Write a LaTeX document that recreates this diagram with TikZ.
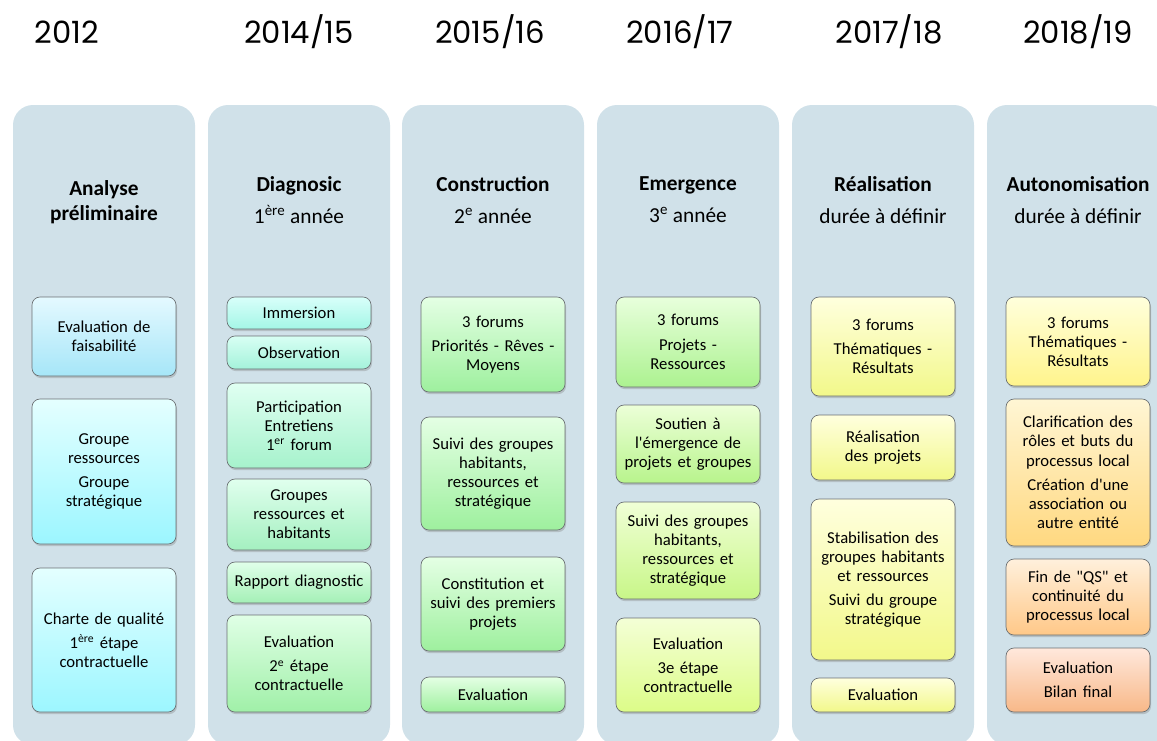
\documentclass[tikz,border=0pt]{standalone}
\usepackage{fontspec}
\setmainfont{Carlito}
\newfontfamily\yearfont{Poppins}
\usetikzlibrary{shadows}

\definecolor{colbg}{HTML}{D0E1E9}
\definecolor{bordgray}{HTML}{6A6F72}
% box shades, top and bottom
\definecolor{topblue}{HTML}{E4F9FF}\definecolor{botblue}{HTML}{A6E6F8}
\definecolor{topcyan}{HTML}{E4FFFF}\definecolor{botcyan}{HTML}{9CF6FF}
\definecolor{topaqua}{HTML}{D8FFFA}\definecolor{botaqua}{HTML}{A4F6E6}
\definecolor{topteal}{HTML}{D8FFF4}\definecolor{botteal}{HTML}{A4F2DA}
\definecolor{topmint}{HTML}{E0FFF2}\definecolor{botmint}{HTML}{A6F2CC}
\definecolor{topsea}{HTML}{E0FFEE}\definecolor{botsea}{HTML}{A4F0C0}
\definecolor{topjade}{HTML}{E0FFEA}\definecolor{botjade}{HTML}{A4F0B6}
\definecolor{topleaf}{HTML}{E0FFE6}\definecolor{botleaf}{HTML}{A0F0A8}
\definecolor{topgreen}{HTML}{E4FFE4}\definecolor{botgreen}{HTML}{9EF09E}
\definecolor{toplime}{HTML}{E8FFDC}\definecolor{botlime}{HTML}{ACF290}
\definecolor{topspring}{HTML}{ECFFD8}\definecolor{botspring}{HTML}{B8F48C}
\definecolor{topchart}{HTML}{F0FFD6}\definecolor{botchart}{HTML}{C8F688}
\definecolor{toppear}{HTML}{F4FFD6}\definecolor{botpear}{HTML}{DCFC88}
\definecolor{topyel}{HTML}{FFFFDE}\definecolor{botyel}{HTML}{F2F88A}
\definecolor{topgold}{HTML}{FFFFDC}\definecolor{botgold}{HTML}{FFF48C}
\definecolor{topamber}{HTML}{FFF6D4}\definecolor{botamber}{HTML}{FFD880}
\definecolor{toporange}{HTML}{FFF0DC}\definecolor{botorange}{HTML}{FFC888}
\definecolor{topsalmon}{HTML}{FFE8DC}\definecolor{botsalmon}{HTML}{F8B888}

\begin{document}
\begin{tikzpicture}[x=0.75pt,y=-0.75pt,every node/.style={align=center},
	col/.style={fill=colbg,rounded corners=15pt,minimum width=136.5pt,minimum height=480pt,inner sep=0pt},
	year/.style={font=\yearfont\fontsize{23}{27}\selectfont},
	hd/.style={font=\fontsize{16}{19}\selectfont},
	box/.style={draw=bordgray,line width=0.5pt,rounded corners=6pt,minimum width=108pt,text width=104pt,inner sep=1pt,
		font=\fontsize{12.5}{14.3}\selectfont,drop shadow={shadow xshift=0.8pt,shadow yshift=-1.6pt,opacity=0.35}},
	ht/.style={minimum height=#1*0.75pt},
	grad/.style={top color=top#1,bottom color=bot#1}]
	\useasboundingbox (0,0) rectangle (1157,740);
	
	% years
	\node[year] (y1) at (67,32) {2012};
	\node[year] (y2) at (299,32) {2014/15};
	\node[year] (y3) at (490,32) {2015/16};
	\node[year] (y4) at (680,32) {2016/17};
	\node[year] (y5) at (889,32) {2017/18};
	\node[year] (y6) at (1078,32) {2018/19};
	
	% columns
	\node[col] (c1) at (104,425) {};
	\node[col] (c2) at (299,425) {};
	\node[col] (c3) at (493,425) {};
	\node[col] (c4) at (688,425) {};
	\node[col] (c5) at (883,425) {};
	\node[col] (c6) at (1078,425) {};
	
	% headers
	\node[hd] (h1) at (104,202) {\textbf{Analyse}\\[0pt]\textbf{préliminaire}};
	\node[hd] (h2) at (299,200) {\textbf{Diagnosic}\\[5pt]1\textsuperscript{ère} année};
	\node[hd] (h3) at (493,200) {\textbf{Construction}\\[5pt]2\textsuperscript{e} année};
	\node[hd] (h4) at (688,200) {\textbf{Emergence}\\[5pt]3\textsuperscript{e} année};
	\node[hd] (h5) at (883,200) {\textbf{Réalisation}\\[5pt]durée à définir};
	\node[hd] (h6) at (1078,200) {\textbf{Autonomisation}\\[5pt]durée à définir};
	
	% column 1
	\node[box,ht=79,grad=blue] (b1a) at (104,336.5) {Evaluation de\\faisabilité};
	\node[box,ht=145,grad=cyan] (b1b) at (104,471.5) {Groupe\\ressources\\[4pt]Groupe\\stratégique};
	\node[box,ht=144,grad=cyan] (b1c) at (104,640) {Charte de qualité\\[4pt]1\textsuperscript{ère} étape\\contractuelle};
	
	% column 2
	\node[box,ht=32,grad=aqua] (b2a) at (299,313) {Immersion};
	\node[box,ht=33,grad=teal] (b2b) at (299,352.5) {Observation};
	\node[box,ht=85,grad=mint] (b2c) at (299,425.5) {Participation\\Entretiens\\1\textsuperscript{er} forum};
	\node[box,ht=71,grad=sea] (b2d) at (299,514.5) {Groupes\\ressources et\\habitants};
	\node[box,ht=41,grad=jade] (b2e) at (299,582.5) {Rapport diagnostic};
	\node[box,ht=97,grad=leaf] (b2f) at (299,663.5) {Evaluation\\[4pt]2\textsuperscript{e} étape\\contractuelle};
	
	% column 3
	\node[box,ht=95,grad=green] (b3a) at (493,344.5) {3 forums\\[4pt]Priorités - Rêves -\\Moyens};
	\node[box,ht=113,grad=green] (b3b) at (493,473.5) {Suivi des groupes\\habitants,\\ressources et\\stratégique};
	\node[box,ht=94,grad=green] (b3c) at (493,604) {Constitution et\\suivi des premiers\\projets};
	\node[box,ht=35,grad=green] (b3d) at (493,694.5) {Evaluation};
	
	% column 4
	\node[box,ht=90,grad=lime] (b4a) at (688,342) {3 forums\\[4pt]Projets -\\Ressources};
	\node[box,ht=78,grad=spring] (b4b) at (688,444) {Soutien à\\l\textquotesingle émergence de\\projets et groupes};
	\node[box,ht=97,grad=chart] (b4c) at (688,550.5) {Suivi des groupes\\habitants,\\ressources et\\stratégique};
	\node[box,ht=94,grad=pear] (b4d) at (688,665) {Evaluation\\[4pt]3e étape\\contractuelle};
	
	% column 5
	\node[box,ht=99,grad=yel] (b5a) at (883,346.5) {3 forums\\[4pt]Thématiques -\\Résultats};
	\node[box,ht=65,grad=yel] (b5b) at (883,447.5) {Réalisation\\des projets};
	\node[box,ht=161,grad=yel] (b5c) at (883,579.5) {Stabilisation des\\groupes habitants\\et ressources\\[4pt]Suivi du groupe\\stratégique};
	\node[box,ht=34,grad=yel] (b5d) at (883,695) {Evaluation};
	
	% column 6
	\node[box,ht=89,grad=gold] (b6a) at (1078,341.5) {3 forums\\Thématiques -\\Résultats};
	\node[box,ht=147,grad=amber] (b6b) at (1078,472.5) {Clarification des\\rôles et buts du\\processus local\\[4pt]Création d\textquotesingle une\\association ou\\autre entité};
	\node[box,ht=76,grad=orange] (b6c) at (1078,597) {Fin de \textquotedbl QS\textquotedbl{} et\\continuité du\\processus local};
	\node[box,ht=64,grad=salmon] (b6d) at (1078,680) {Evaluation\\[4pt]Bilan final};
	
\end{tikzpicture}
\end{document}
